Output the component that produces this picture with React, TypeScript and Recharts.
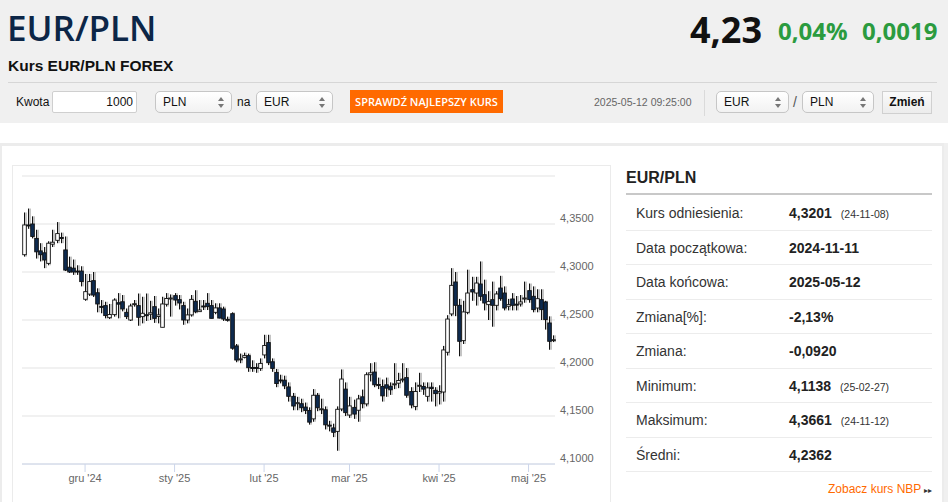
import React from "react";
import { ComposedChart, Bar, XAxis, YAxis, CartesianGrid } from "recharts";

// daily EUR/PLN candles, 2024-11-11 .. 2025-05-12
const openValues = [
  4.318, 4.349, 4.35, 4.335, 4.322, 4.32, 4.309, 4.329, 4.333, 4.336,
  4.323, 4.305, 4.304, 4.301, 4.301, 4.2716, 4.277, 4.291, 4.2784, 4.2642,
  4.265, 4.2524, 4.2556, 4.268, 4.269, 4.258, 4.25, 4.2665, 4.265, 4.2535,
  4.2555, 4.256, 4.2639, 4.2537, 4.2424, 4.2664, 4.2726, 4.2754, 4.2712, 4.265,
  4.25, 4.2553, 4.2695, 4.2587, 4.2646, 4.2674, 4.265, 4.258, 4.2626, 4.2615,
  4.2507, 4.2566, 4.223, 4.209, 4.2111, 4.2129, 4.2005, 4.2006, 4.1996, 4.2136,
  4.2265, 4.2065, 4.1954, 4.1875, 4.1873, 4.1803, 4.1705, 4.1628, 4.1628, 4.1593,
  4.1558, 4.147, 4.1716, 4.157, 4.1565, 4.1405, 4.1376, 4.134, 4.1573, 4.178,
  4.151, 4.159, 4.156, 4.17, 4.1626, 4.193, 4.1958, 4.1828, 4.1808, 4.1825,
  4.181, 4.183, 4.1842, 4.188, 4.19, 4.1755, 4.1598, 4.1812, 4.1808, 4.1705,
  4.18, 4.1768, 4.174, 4.175, 4.2164, 4.2563, 4.2896, 4.2653, 4.2285, 4.258,
  4.2816, 4.2781, 4.2875, 4.2764, 4.266, 4.2712, 4.2653, 4.2833, 4.2781, 4.2643,
  4.2719, 4.2665, 4.2667, 4.2725, 4.2806, 4.2747, 4.2625, 4.2712, 4.2688, 4.2469,
  4.229,
];
const highValues = [
  4.362, 4.3661, 4.358, 4.344, 4.33, 4.326, 4.332, 4.344, 4.352, 4.341,
  4.337, 4.316, 4.313, 4.307, 4.306, 4.298, 4.298, 4.3, 4.283, 4.2708,
  4.269, 4.2667, 4.2726, 4.278, 4.276, 4.262, 4.267, 4.2708, 4.2776, 4.2742,
  4.2776, 4.27, 4.275, 4.262, 4.2742, 4.278, 4.2766, 4.278, 4.276, 4.269,
  4.262, 4.276, 4.281, 4.2708, 4.2708, 4.278, 4.2708, 4.2674, 4.2674, 4.2639,
  4.2535, 4.258, 4.225, 4.215, 4.216, 4.215, 4.208, 4.205, 4.21, 4.2346,
  4.2346, 4.21, 4.199, 4.193, 4.192, 4.185, 4.174, 4.17, 4.168, 4.164,
  4.159, 4.178, 4.174, 4.168, 4.16, 4.145, 4.142, 4.16, 4.1985, 4.185,
  4.17, 4.167, 4.172, 4.1775, 4.1955, 4.205, 4.206, 4.19, 4.188, 4.19,
  4.185, 4.205, 4.195, 4.205, 4.2, 4.18, 4.185, 4.195, 4.185, 4.185,
  4.185, 4.18, 4.182, 4.223, 4.255, 4.304, 4.3, 4.272, 4.27, 4.3024,
  4.295, 4.295, 4.311, 4.292, 4.28, 4.29, 4.28, 4.296, 4.285, 4.272,
  4.278, 4.275, 4.276, 4.29, 4.288, 4.285, 4.282, 4.282, 4.27, 4.2538,
  4.234,
];
const lowValues = [
  4.316, 4.345, 4.335, 4.314, 4.311, 4.304, 4.307, 4.326, 4.33, 4.33,
  4.301, 4.299, 4.297, 4.297, 4.285, 4.27, 4.275, 4.274, 4.258, 4.257,
  4.2517, 4.251, 4.2535, 4.2517, 4.259, 4.251, 4.249, 4.2639, 4.244, 4.2465,
  4.249, 4.25, 4.247, 4.2465, 4.2424, 4.264, 4.2535, 4.265, 4.261, 4.245,
  4.2465, 4.2535, 4.257, 4.2587, 4.2604, 4.2604, 4.2517, 4.256, 4.2517, 4.249,
  4.2483, 4.219, 4.206, 4.205, 4.21, 4.196, 4.196, 4.195, 4.197, 4.21,
  4.203, 4.196, 4.18, 4.184, 4.178, 4.165, 4.156, 4.156, 4.154, 4.152,
  4.141, 4.144, 4.155, 4.152, 4.136, 4.134, 4.128, 4.1138, 4.155, 4.15,
  4.148, 4.147, 4.144, 4.158, 4.16, 4.186, 4.18, 4.178, 4.165, 4.17,
  4.172, 4.178, 4.179, 4.185, 4.169, 4.158, 4.156, 4.175, 4.172, 4.165,
  4.165, 4.16, 4.162, 4.165, 4.213, 4.254, 4.254, 4.2122, 4.225, 4.256,
  4.27, 4.265, 4.27, 4.26, 4.25, 4.243, 4.26, 4.27, 4.26, 4.26,
  4.26, 4.26, 4.264, 4.268, 4.268, 4.258, 4.258, 4.25, 4.24, 4.219,
  4.227,
];
const closeValues = [
  4.349, 4.348, 4.337, 4.321, 4.318, 4.3125, 4.33, 4.331, 4.34, 4.335,
  4.302, 4.3, 4.3, 4.3, 4.29, 4.2795, 4.29, 4.276, 4.2667, 4.2636,
  4.2546, 4.2557, 4.2708, 4.2665, 4.2615, 4.2535, 4.2646, 4.267, 4.2528, 4.257,
  4.2553, 4.2575, 4.2517, 4.2553, 4.2667, 4.2724, 4.2729, 4.2708, 4.2677, 4.25,
  4.2553, 4.2715, 4.2585, 4.2604, 4.2643, 4.2639, 4.2517, 4.2626, 4.252, 4.251,
  4.2503, 4.2206, 4.2083, 4.2095, 4.2129, 4.2003, 4.2, 4.1996, 4.2048, 4.2234,
  4.2055, 4.1996, 4.1838, 4.187, 4.1814, 4.1705, 4.1604, 4.1639, 4.1586, 4.1558,
  4.1436, 4.1716, 4.1586, 4.1575, 4.1408, 4.14, 4.133, 4.157, 4.1885, 4.1535,
  4.1605, 4.152, 4.1678, 4.1628, 4.193, 4.195, 4.1825, 4.1825, 4.171, 4.179,
  4.1773, 4.1835, 4.187, 4.1885, 4.1716, 4.1615, 4.1755, 4.182, 4.178, 4.1793,
  4.1786, 4.1733, 4.1755, 4.2188, 4.251, 4.2861, 4.2653, 4.2278, 4.2584, 4.2781,
  4.2792, 4.2885, 4.2747, 4.2677, 4.2694, 4.2653, 4.2771, 4.2722, 4.2625, 4.266,
  4.2653, 4.266, 4.2688, 4.2729, 4.2712, 4.2608, 4.2722, 4.2608, 4.2504, 4.2278,
  4.2295,
];

const monthTickIdx = [15, 37, 59, 80, 102, 124];
const monthTickLabels = ["gru '24", "sty '25", "lut '25", "mar '25", "kwi '25", "maj '25"];
const yTicks = [4.1, 4.15, 4.2, 4.25, 4.3, 4.35, 4.4];

const statLabels = [
  "Kurs odniesienia:",
  "Data początkowa:",
  "Data końcowa:",
  "Zmiana[%]:",
  "Zmiana:",
  "Minimum:",
  "Maksimum:",
  "Średni:",
];
const statValues = ["4,3201", "2024-11-11", "2025-05-12", "-2,13%", "-0,0920", "4,1138", "4,3661", "4,2362"];
const statDates = ["(24-11-08)", "", "", "", "", "(25-02-27)", "(24-11-12)", ""];

const candles = openValues.map((o, i) => ({
  idx: i,
  open: o,
  high: highValues[i],
  low: lowValues[i],
  close: closeValues[i],
  range: [lowValues[i], highValues[i]],
}));

const sans = "'Liberation Sans', Arial, sans-serif";
const open = "'Open Sans', 'Liberation Sans', sans-serif";

const CandleShape = (props: any) => {
  const { x, y, width, height, index } = props;
  const d = props.payload && props.payload.open !== undefined ? props.payload : candles[index];
  const top = Math.min(y, y + height);
  const h = Math.abs(height);
  const k = h / (d.high - d.low);
  const yOpen = top + (d.high - d.open) * k;
  const yClose = top + (d.high - d.close) * k;
  const cx = Math.round(x + width / 2) + 0.5;
  const bodyTop = Math.min(yOpen, yClose);
  const bodyH = Math.max(Math.abs(yClose - yOpen), 1);
  const up = d.close >= d.open;
  return (
    <g>
      <line x1={cx + 1.5} x2={cx + 1.5} y1={top} y2={top + h} stroke="#8a8a8a" strokeWidth={1} />
      <line x1={cx} x2={cx} y1={top} y2={top + h} stroke="#111" strokeWidth={1} />
      <rect
        x={cx - 1.8}
        y={bodyTop}
        width={3.6}
        height={bodyH}
        fill={up ? "#ffffff" : "#0e2b50"}
        stroke="#111"
        strokeWidth={0.9}
      />
    </g>
  );
};

const YTick = (props: any) => {
  const { x, y, payload } = props;
  if (payload.value >= 4.399) return null;
  return (
    <text x={x - 3} y={y - 2} fontSize={11} fill="#666" fontFamily={sans} textAnchor="start">
      {payload.value.toFixed(4).replace(".", ",")}
    </text>
  );
};

const XTick = (props: any) => {
  const { x, y, payload } = props;
  const k = monthTickIdx.indexOf(payload.value);
  if (k < 0) return null;
  return (
    <g>
      <line x1={x} x2={x} y1={y - 8} y2={y} stroke="#ccd6eb" strokeWidth={1} />
      <text x={x} y={y + 10} fontSize={11} fill="#666" fontFamily={sans} textAnchor="middle">
        {monthTickLabels[k]}
      </text>
    </g>
  );
};

const Select = ({ left, width, label }: { left: number; width: number; label: string }) => (
  <div
    style={{
      position: "absolute",
      left,
      top: 91,
      width,
      height: 22,
      boxSizing: "border-box",
      border: "1px solid #c6c6c6",
      borderRadius: 5,
      background: "linear-gradient(#ffffff, #f2f2f2)",
      fontSize: 12,
      lineHeight: "20px",
      paddingLeft: 7,
      color: "#111",
      fontFamily: sans,
    }}
  >
    {label}
    <svg style={{ position: "absolute", right: 7, top: 5 }} width="6" height="11">
      <path d="M0 4 L3 0 L6 4Z M0 7 L3 11 L6 7Z" fill="#777" />
    </svg>
  </div>
);

const abs = (left: number, top: number, extra: React.CSSProperties = {}): React.CSSProperties => ({
  position: "absolute",
  left,
  top,
  whiteSpace: "nowrap",
  ...extra,
});

export default function App() {
  return (
    <div style={{ position: "relative", width: 948, height: 502, overflow: "hidden", background: "#fff", fontFamily: sans }}>
      <style>{"body{margin:0}"}</style>

      {/* header */}
      <div style={abs(0, 0, { width: 948, height: 123, background: "#f0f0f0" })} />
      <div style={abs(7, 5, { fontFamily: open, fontWeight: 600, fontSize: 35, color: "#0c2647", lineHeight: "46px" })}>
        EUR/PLN
      </div>
      <div style={abs(8, 57, { fontWeight: 700, fontSize: 15.5, color: "#111", lineHeight: "18px" })}>
        Kurs EUR/PLN FOREX
      </div>
      <div style={abs(690, 6, { fontFamily: open, fontWeight: 700, fontSize: 36, color: "#111", lineHeight: "48px" })}>
        4,23
      </div>
      <div style={abs(778, 13, { fontFamily: open, fontWeight: 700, fontSize: 24, color: "#2b9b3f", lineHeight: "36px" })}>
        0,04%
      </div>
      <div style={abs(862, 13, { fontFamily: open, fontWeight: 700, fontSize: 24, color: "#2b9b3f", lineHeight: "36px" })}>
        0,0019
      </div>
      <div style={abs(8, 82, { width: 929, height: 1, background: "#d6d6d6" })} />

      {/* converter row */}
      <div style={abs(16, 95, { fontSize: 12, color: "#111" })}>Kwota</div>
      <div
        style={abs(52, 91, {
          width: 85,
          height: 22,
          boxSizing: "border-box",
          border: "1px solid #cfcfcf",
          borderRadius: 2,
          background: "#fff",
          fontSize: 12,
          lineHeight: "20px",
          textAlign: "right",
          paddingRight: 3,
          color: "#111",
        })}
      >
        1000
      </div>
      <Select left={155} width={77} label="PLN" />
      <div style={abs(237, 95, { fontSize: 12, color: "#111" })}>na</div>
      <Select left={256} width={77} label="EUR" />
      <div
        style={abs(350, 90, {
          width: 153,
          height: 23,
          background: "#ff6a00",
          color: "#fff",
          fontFamily: open,
          fontWeight: 600,
          fontSize: 11,
          lineHeight: "23px",
          textAlign: "center",
        })}
      >
        SPRAWDŹ NAJLEPSZY KURS
      </div>
      <div style={abs(594, 96, { fontSize: 10.5, color: "#666" })}>2025-05-12 09:25:00</div>
      <div style={abs(704, 90, { width: 1, height: 26, background: "#dadada" })} />
      <Select left={716} width={73} label="EUR" />
      <div style={abs(793, 94, { fontSize: 14, color: "#555" })}>/</div>
      <Select left={802} width={72} label="PLN" />
      <div
        style={abs(882, 91, {
          width: 50,
          height: 23,
          boxSizing: "border-box",
          border: "1px solid #d0d0d0",
          background: "linear-gradient(#fafafa, #ececec)",
          fontWeight: 700,
          fontSize: 12,
          lineHeight: "21px",
          textAlign: "center",
          color: "#111",
        })}
      >
        Zmień
      </div>

      {/* content panel */}
      <div style={abs(0, 143, { width: 944, height: 400, boxSizing: "border-box", borderTop: "3px solid #ececec", borderLeft: "2px solid #ececec", borderRight: "2px solid #ececec" })} />
      <div style={abs(944, 143, { width: 4, height: 359, background: "#f0f0f0" })} />
      <div style={abs(12, 165, { width: 599, height: 360, boxSizing: "border-box", border: "1px solid #ebebeb" })} />

      <div style={abs(12, 165)}>
        <ComposedChart
          width={605}
          height={337}
          data={candles}
          margin={{ top: 11, right: 0, left: 10, bottom: 8 }}
          barCategoryGap={1}
        >
          <CartesianGrid vertical={false} stroke="#e3e3e3" />
          <XAxis
            dataKey="idx"
            interval={0}
            tick={<XTick />}
            tickLine={false}
            tickSize={8}
            tickMargin={0}
            axisLine={{ stroke: "#ccd6eb" }}
            height={30}
          />
          <YAxis
            orientation="right"
            domain={[4.1, 4.4]}
            ticks={yTicks}
            allowDataOverflow
            width={62}
            axisLine={false}
            tickLine={false}
            tick={<YTick />}
          />
          <Bar dataKey="range" shape={<CandleShape />} isAnimationActive={false} />
        </ComposedChart>
      </div>

      {/* stats table */}
      <div style={abs(626, 167, { fontWeight: 700, fontSize: 16, color: "#222", lineHeight: "22px" })}>EUR/PLN</div>
      <div style={abs(626, 193, { width: 306, height: 2, background: "#c8c8c8" })} />
      {statLabels.map((label, i) => (
        <div key={label} style={abs(626, 196 + i * 34.5, { width: 306, height: 34.5, boxSizing: "border-box", borderBottom: "1px solid #ececec" })}>
          <div style={abs(10, 9, { fontSize: 14, color: "#333" })}>{label}</div>
          <div style={abs(163, 9, { fontSize: 14, fontWeight: 700, color: "#222" })}>
            {statValues[i]}
            {statDates[i] && <span style={{ fontSize: 10.5, fontWeight: 400, marginLeft: 9, color: "#333" }}>{statDates[i]}</span>}
          </div>
        </div>
      ))}
      <div style={abs(828, 482, { fontSize: 12, color: "#ff6a00" })}>
        Zobacz kurs NBP <span style={{ fontSize: 8, color: "#333" }}>▸▸</span>
      </div>
    </div>
  );
}
